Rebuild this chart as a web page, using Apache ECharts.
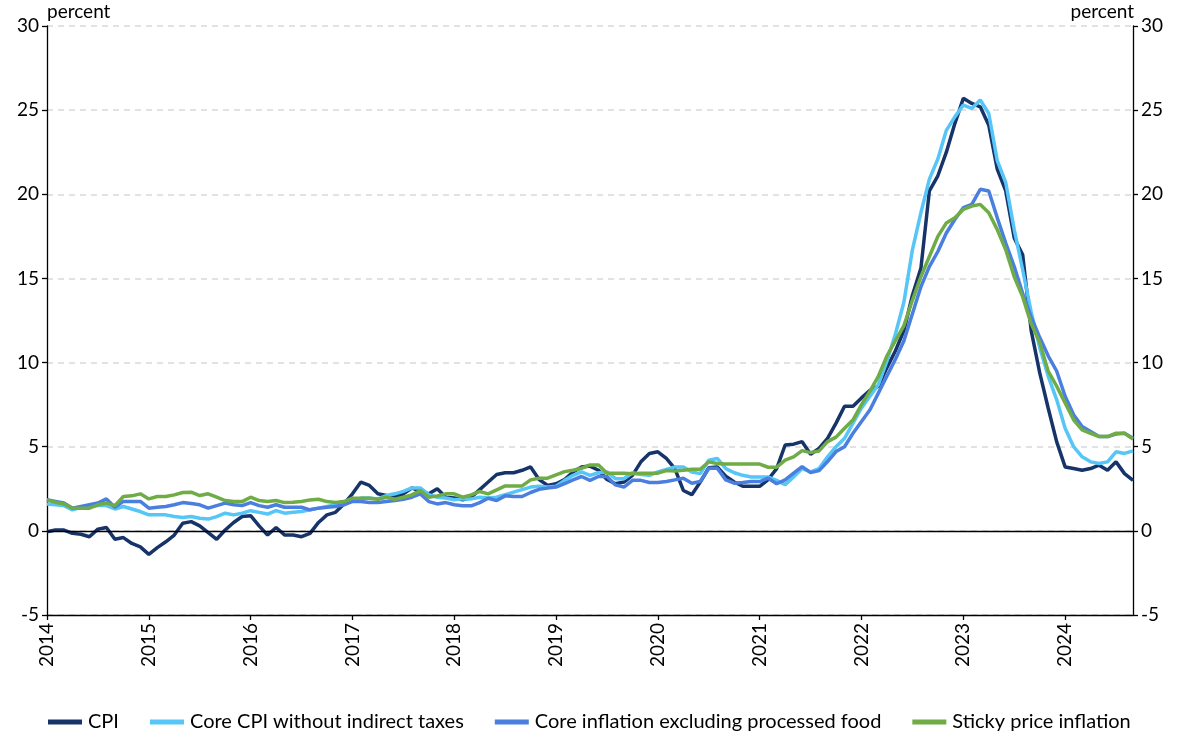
<!DOCTYPE html>
<html>
<head>
<meta charset="utf-8">
<script src="https://cdn.jsdelivr.net/npm/echarts@6/dist/echarts.min.js"></script>
<style>
html,body{margin:0;padding:0;background:#fff;}
#chart{width:1181px;height:745px;}
</style>
</head>
<body>
<div id="chart"></div>
<script>
// ---- data (monthly, Jan 2014 - Sep 2024) ----
const years = [2014,2015,2016,2017,2018,2019,2020,2021,2022,2023,2024];
const monthsInLastYear = 9;
const yTicks = [-5,0,5,10,15,20,25,30];
const seriesNames = ['CPI','Core CPI without indirect taxes','Core inflation excluding processed food','Sticky price inflation'];

const cpi = [
 -0.05,0.05,0.05,-0.15,-0.2,-0.35,0.1,0.2,-0.5,-0.4,-0.75,-0.95,
 -1.4,-1.0,-0.65,-0.25,0.45,0.55,0.3,-0.1,-0.5,0.05,0.5,0.85,
 0.9,0.3,-0.25,0.2,-0.25,-0.25,-0.35,-0.15,0.5,0.95,1.1,1.6,
 2.2,2.9,2.7,2.2,2.1,2.0,2.2,2.55,2.35,2.2,2.5,2.0,
 1.95,1.85,2.0,2.45,2.9,3.35,3.45,3.45,3.6,3.8,3.05,2.7,
 2.8,3.05,3.5,3.8,3.85,3.6,3.05,2.8,2.9,3.3,4.1,4.6,
 4.7,4.3,3.7,2.4,2.15,2.9,3.75,3.8,3.25,2.9,2.65,2.65,
 2.65,3.05,3.7,5.1,5.15,5.3,4.55,4.9,5.5,6.4,7.4,7.4,
 7.9,8.35,8.6,9.7,10.7,11.9,14.0,15.6,20.2,21.1,22.5,24.2,
 25.7,25.4,25.2,24.1,21.5,20.2,17.4,16.4,11.9,9.4,7.3,5.3,
 3.8,3.7,3.6,3.7,3.9,3.6,4.1,3.4,3.0
];
const coreCpi = [
 1.6,1.55,1.5,1.25,1.4,1.45,1.5,1.5,1.3,1.45,1.3,1.15,
 0.95,0.95,0.95,0.85,0.8,0.85,0.75,0.7,0.85,1.05,0.95,1.05,
 1.2,1.1,1.0,1.2,1.05,1.1,1.15,1.25,1.35,1.45,1.55,1.65,
 1.75,1.95,1.95,1.9,2.1,2.2,2.35,2.55,2.55,2.15,2.0,1.95,
 1.85,1.9,1.9,2.0,1.95,2.0,2.15,2.3,2.45,2.6,2.65,2.6,
 2.65,3.0,3.3,3.5,3.3,3.45,3.5,3.1,3.1,3.45,3.35,3.3,
 3.5,3.65,3.8,3.8,3.5,3.4,4.2,4.3,3.7,3.45,3.3,3.2,
 3.2,3.2,3.0,2.75,3.2,3.7,3.5,3.7,4.4,5.0,5.5,6.4,
 7.3,8.0,8.7,10.1,11.7,13.6,16.7,18.9,20.9,22.1,23.8,24.6,
 25.3,25.1,25.6,24.8,22.0,20.7,17.9,15.5,13.0,10.9,9.2,7.8,
 6.1,5.0,4.4,4.1,4.0,4.1,4.7,4.6,4.75
];
const coreExFood = [
 1.85,1.75,1.65,1.35,1.45,1.55,1.65,1.9,1.4,1.75,1.75,1.75,
 1.35,1.4,1.45,1.55,1.68,1.62,1.55,1.35,1.5,1.65,1.55,1.5,
 1.68,1.5,1.4,1.55,1.4,1.4,1.4,1.25,1.35,1.4,1.45,1.55,
 1.75,1.75,1.68,1.68,1.74,1.8,1.88,2.0,2.2,1.74,1.6,1.68,
 1.55,1.49,1.49,1.68,1.94,1.8,2.08,2.04,2.04,2.28,2.47,2.54,
 2.6,2.8,3.03,3.23,3.0,3.23,3.23,2.73,2.6,3.0,3.0,2.87,
 2.87,2.93,3.03,3.13,2.83,2.93,3.72,3.72,3.03,2.83,2.87,2.93,
 2.93,3.13,2.8,3.03,3.43,3.82,3.46,3.58,4.12,4.71,5.0,5.8,
 6.5,7.2,8.2,9.2,10.2,11.3,12.9,14.5,15.7,16.6,17.7,18.5,
 19.2,19.4,20.3,20.2,18.6,17.1,15.7,14.1,12.7,11.5,10.4,9.5,
 8.0,6.9,6.2,5.9,5.6,5.6,5.75,5.8,5.5
];
const sticky = [
 1.84,1.7,1.6,1.35,1.35,1.35,1.55,1.65,1.5,2.04,2.08,2.2,
 1.9,2.04,2.04,2.14,2.28,2.3,2.1,2.2,2.0,1.8,1.75,1.74,
 2.0,1.8,1.74,1.8,1.68,1.7,1.74,1.84,1.88,1.74,1.68,1.74,
 1.94,1.94,1.94,1.88,2.0,1.88,2.0,2.14,2.4,2.0,2.08,2.2,
 2.2,2.0,2.14,2.34,2.2,2.44,2.67,2.67,2.67,3.03,3.13,3.13,
 3.33,3.52,3.6,3.72,3.92,3.92,3.43,3.43,3.43,3.4,3.43,3.43,
 3.43,3.58,3.55,3.6,3.66,3.66,4.1,4.0,3.97,3.97,3.97,3.97,
 3.97,3.78,3.78,4.2,4.4,4.77,4.65,4.75,5.3,5.57,6.1,6.6,
 7.5,8.3,9.2,10.4,11.3,12.2,13.7,15.1,16.3,17.5,18.3,18.6,
 19.1,19.3,19.4,18.9,17.9,16.7,15.1,13.9,12.3,11.2,9.5,8.6,
 7.6,6.6,6.0,5.8,5.6,5.6,5.8,5.8,5.45
];

// ---- categories ----
const categories = [];
years.forEach((y, i) => {
  const n = (i === years.length - 1) ? monthsInLastYear : 12;
  for (let m = 1; m <= n; m++) categories.push(y + '-' + (m < 10 ? '0' + m : m));
});

const colors = ['#17346a', '#56c5f7', '#4a7fdf', '#6fac46'];
const FONT = 'Lato';

const chart = echarts.init(document.getElementById('chart'), null, {renderer: 'canvas'});

function yAxisCfg(pos, showSplit) {
  return {
    type: 'value', position: pos, min: -5, max: 30, interval: 5,
    axisLine: {show: true, lineStyle: {color: '#000', width: 1.3}},
    axisTick: {show: true, inside: false, length: 5, lineStyle: {color: '#000', width: 1.3}},
    axisLabel: {color: '#000', fontSize: 19, fontFamily: FONT, margin: 8},
    splitLine: {show: showSplit, lineStyle: {color: '#d9d9d9', type: [6, 5], width: 1.5}}
  };
}

const dataSets = [cpi, coreCpi, coreExFood, sticky];
const series = dataSets.map((d, i) => ({
  name: seriesNames[i], type: 'line', data: d, yAxisIndex: 0,
  showSymbol: false, symbol: 'none',
  lineStyle: {width: 3.5, color: colors[i]}, itemStyle: {color: colors[i]},
  z: 3 + i
}));
series[0].markLine = {
  silent: true, symbol: 'none', label: {show: false},
  lineStyle: {color: '#000', type: 'solid', width: 1.3},
  data: [{yAxis: 0}]
};

chart.setOption({
  animation: false,
  backgroundColor: '#fff',
  grid: {left: 47, right: 48, top: 26, bottom: 130, containLabel: false},
  xAxis: {
    type: 'category', data: categories, boundaryGap: false,
    axisLine: {onZero: false, lineStyle: {color: '#000', width: 1.3}},
    axisTick: {show: true, length: 5, lineStyle: {color: '#000', width: 1.3},
      interval: (idx, val) => val.endsWith('-01')},
    axisLabel: {
      rotate: 90, color: '#000', fontSize: 19, fontFamily: FONT, margin: 8,
      interval: (idx, val) => val.endsWith('-01'),
      formatter: v => v.slice(0, 4)
    },
    splitLine: {show: false}
  },
  yAxis: [yAxisCfg('left', true), yAxisCfg('right', false)],
  legend: {
    bottom: 8, left: 43, itemWidth: 34, itemHeight: 5, itemGap: 31,
    icon: 'rect',
    textStyle: {color: '#000', fontSize: 20, fontFamily: FONT, padding: [0, 0, 0, 1]},
    data: seriesNames
  },
  graphic: [
    {type: 'text', left: 47, top: 2, style: {text: 'percent', fontSize: 19, fontFamily: FONT, fill: '#000'}},
    {type: 'text', right: 47, top: 2, style: {text: 'percent', fontSize: 19, fontFamily: FONT, fill: '#000'}}
  ],
  series: series
});
</script>
</body>
</html>
